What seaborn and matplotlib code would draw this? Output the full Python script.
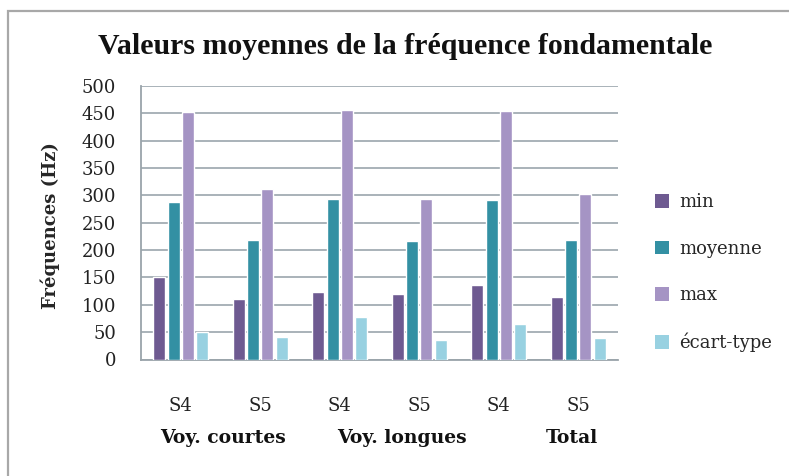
import matplotlib
matplotlib.use("Agg")
import matplotlib.pyplot as plt
from matplotlib.patches import Rectangle
import seaborn as sns
import pandas as pd

# Data
groups = ["Voy. courtes", "Voy. courtes", "Voy. longues", "Voy. longues", "Total", "Total"]
sessions = ["S4", "S5", "S4", "S5", "S4", "S5"]
series = ["min", "moyenne", "max", "écart-type"]
val_min = [150, 110, 123, 119, 137, 115]
val_moyenne = [288, 218, 294, 216, 291, 218]
val_max = [452, 312, 457, 294, 455, 303]
val_ecart = [50, 42, 78, 35, 64, 39]
group_labels = ["Voy. courtes", "Voy. longues", "Total"]
group_label_x = [0.53, 2.78, 4.92]
yticks = [0, 50, 100, 150, 200, 250, 300, 350, 400, 450, 500]

colors = ["#6E5A91", "#3390A3", "#A594C4", "#98D1E1"]

keys = [f"{g} {s}" for g, s in zip(groups, sessions)]
rows = []
for name, vals in zip(series, [val_min, val_moyenne, val_max, val_ecart]):
    for k, v in zip(keys, vals):
        rows.append({"cat": k, "serie": name, "Hz": v})
df = pd.DataFrame(rows)

sns.set_theme(style="white")
plt.rcParams["font.family"] = ["DejaVu Serif"]

fig = plt.figure(figsize=(7.89, 4.76), dpi=100)
ax = fig.add_axes([141 / 789, 1 - 359.5 / 476, (618 - 141) / 789, (359.5 - 86) / 476])

sns.barplot(data=df, x="cat", y="Hz", hue="serie", order=keys, hue_order=series,
            palette=colors, width=0.72, gap=0.15, saturation=1, ax=ax, legend=False,
            zorder=3)

ax.set_ylim(0, 500)
ax.set_xlim(-0.5, len(keys) - 0.5)
ax.set_yticks(yticks)
ax.set_yticklabels([str(t) for t in yticks], fontsize=13, color="#222222")
ax.yaxis.grid(True, color="#A3ADB3", linewidth=1.3, zorder=0)
ax.set_axisbelow(True)

# x axis: session labels, tick marks at category boundaries
ax.set_xticks(range(len(keys)))
ax.set_xticklabels(sessions, fontsize=13, color="#222222")
ax.tick_params(axis="x", which="major", length=0, pad=27)
ax.set_xticks([i - 0.5 for i in range(len(keys) + 1)], minor=True)
ax.tick_params(axis="x", which="minor", length=6, width=1.2, color="#9AA4AA", direction="out")
ax.tick_params(axis="y", length=6, width=1.2, color="#9AA4AA", direction="out", pad=12)
ax.set_xlabel("")
ax.set_ylabel("Fréquences (Hz)", fontsize=13, fontweight="bold")
ax.yaxis.set_label_coords(-0.17, 0.49)

for side in ["top", "right"]:
    ax.spines[side].set_visible(False)
for side in ["left", "bottom"]:
    ax.spines[side].set_color("#9AA4AA")
    ax.spines[side].set_linewidth(1.3)

for lab, x in zip(group_labels, group_label_x):
    ax.text(x, -0.287, lab, transform=ax.get_xaxis_transform(), ha="center", va="center",
            fontsize=13.5, fontweight="bold", color="#111111")

fig.text(0.513, 1 - 46 / 476, "Valeurs moyennes de la fréquence fondamentale",
         ha="center", va="center", fontsize=21.5, fontweight="bold", color="#111111",
         family=["Liberation Serif", "DejaVu Serif"])

# Legend
handles = [Rectangle((0, 0), 1, 1, facecolor=c, edgecolor="none") for c in colors]
leg = fig.legend(handles, series, loc="upper left", bbox_to_anchor=(648 / 789, 1 - 186 / 476),
                 frameon=False, fontsize=13, handlelength=0.75, handleheight=0.75,
                 handletextpad=0.6, labelspacing=1.58, borderaxespad=0)

# Outer frame
fig.patches.append(Rectangle((8 / 789, -0.05), 1.1, 1 - 11 / 476 + 0.05, transform=fig.transFigure,
                             fill=False, edgecolor="#A8A8A8", linewidth=1.6))

fig.savefig("out.png", dpi=100)
